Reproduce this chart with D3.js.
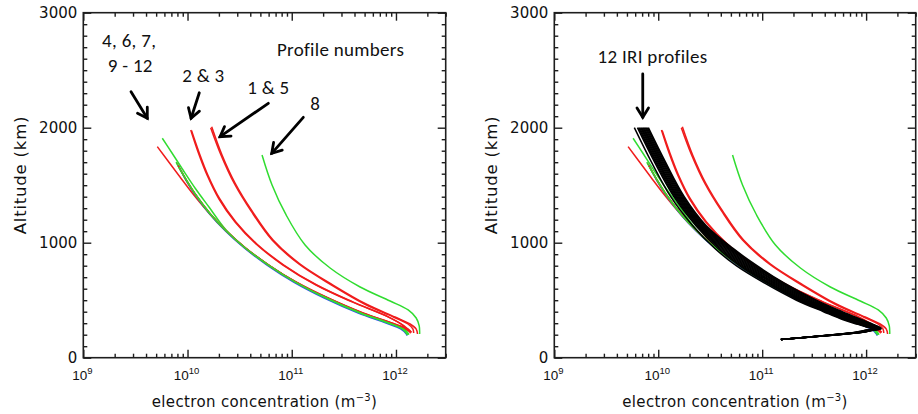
<!DOCTYPE html>
<html><head><meta charset="utf-8">
<script src="https://cdn.jsdelivr.net/npm/d3@7"></script>
<style>
html,body{margin:0;padding:0;background:#fff;}
svg{display:block;}
</style></head><body>
<svg id="chart" width="918" height="414"></svg>
<script>
// ---------------- DATA ----------------
const xDomain = [1e9, 3e12];
const yDomain = [0, 3000];
const xMajorTicks = [1e9, 1e10, 1e11, 1e12];
const xTickExponents = ["9", "10", "11", "12"];
const yMajorTicks = [0, 1000, 2000, 3000];
const yTickLabels = ["0", "1000", "2000", "3000"];

// measured profiles: [altitude (km), log10 electron concentration (m^-3)]
const profile1 = [[2009,10.232],[1763,10.331],[1519,10.456],[1276,10.619],[1023,10.821],[815,11.080],[632,11.396],[467,11.713],[354,11.991],[293,12.135],[250,12.193],[206,12.207]];
const profile2 = [[1980,10.031],[1789,10.101],[1589,10.187],[1380,10.302],[1180,10.456],[989,10.657],[806,10.916],[632,11.233],[485,11.579],[355,11.924],[277,12.078],[226,12.136]];
const profile3 = [[1975,10.038],[1789,10.109],[1589,10.195],[1380,10.310],[1180,10.464],[989,10.665],[806,10.924],[632,11.240],[485,11.585],[355,11.926],[277,12.070],[235,12.100]];
const profile4 = [[1835,9.710],[1710,9.813],[1571,9.928],[1423,10.053],[1267,10.197],[1102,10.370],[954,10.556],[806,10.778],[658,11.040],[519,11.345],[389,11.678],[302,11.955],[258,12.085],[232,12.135],[220,12.150]];
const profile5 = [[2000,10.222],[1763,10.321],[1519,10.446],[1276,10.609],[1023,10.811],[815,11.068],[632,11.382],[467,11.698],[354,11.975],[293,12.115],[250,12.162],[215,12.170]];
const profile6 = [[1908,9.758],[1780,9.851],[1632,9.957],[1476,10.072],[1310,10.206],[1110,10.370],[954,10.553],[806,10.775],[658,11.035],[519,11.333],[389,11.660],[302,11.930],[250,12.065],[212,12.115],[200,12.120]];
const profile7 = [[1693,9.896],[1545,9.990],[1397,10.095],[1250,10.220],[1102,10.375],[954,10.558],[806,10.780],[658,11.040],[519,11.342],[389,11.672],[302,11.945],[255,12.080],[225,12.130],[212,12.140]];
const profile8 = [[1763,10.715],[1502,10.811],[1241,10.946],[980,11.128],[780,11.368],[615,11.656],[493,11.944],[415,12.117],[345,12.194],[276,12.223],[207,12.227]];
const profile9 = [[1676,9.909],[1545,9.984],[1397,10.088],[1250,10.212],[1102,10.364],[954,10.545],[806,10.763],[658,11.018],[519,11.312],[389,11.638],[302,11.905],[250,12.045],[205,12.100],[192,12.105]];
const profile10 = [[1700,9.890],[1545,9.987],[1397,10.092],[1250,10.217],[1102,10.371],[954,10.553],[806,10.774],[658,11.033],[519,11.330],[389,11.657],[302,11.925],[250,12.060],[197,12.112]];
const profile11 = [[1670,9.910],[1545,9.988],[1397,10.093],[1250,10.218],[1102,10.372],[954,10.556],[806,10.778],[658,11.042],[519,11.350],[389,11.685],[302,11.962],[260,12.090],[235,12.135],[222,12.145]];
const profile12 = [[1660,9.915],[1545,9.990],[1397,10.094],[1250,10.218],[1102,10.372],[954,10.555],[806,10.777],[658,11.037],[519,11.335],[389,11.663],[302,11.932],[250,12.068],[210,12.118],[200,12.120]];

const profileColors = ["red","red","red","red","red","green","red","green","blue","green","red","green"];

// IRI model profiles (right panel): shared altitude grid, log10 Ne per profile
const iriAlt = [2000,1700,1400,1150,950,800,650,500,400,330,290,265,252,240,222,193,158];
const iri1  = [9.770, 9.935,10.120,10.330,10.545,10.750,11.020,11.330,11.590,11.780,11.920,12.010,12.065,12.000,11.900,11.600,11.180];
const iri2  = [9.800, 9.965,10.150,10.360,10.575,10.780,11.045,11.350,11.610,11.800,11.935,12.020,12.072,12.010,11.907,11.604,11.180];
const iri3  = [9.811, 9.976,10.160,10.370,10.590,10.797,11.062,11.367,11.626,11.816,11.949,12.031,12.080,12.017,11.914,11.608,11.180];
const iri4  = [9.821, 9.986,10.170,10.380,10.604,10.814,11.078,11.384,11.642,11.832,11.962,12.042,12.088,12.024,11.921,11.612,11.180];
const iri5  = [9.832, 9.997,10.180,10.390,10.619,10.831,11.095,11.401,11.658,11.848,11.976,12.053,12.095,12.031,11.928,11.616,11.180];
const iri6  = [9.842,10.007,10.190,10.400,10.633,10.848,11.111,11.418,11.674,11.864,11.989,12.064,12.103,12.038,11.935,11.620,11.180];
const iri7  = [9.853,10.018,10.200,10.410,10.648,10.865,11.128,11.435,11.690,11.880,12.003,12.075,12.110,12.045,11.942,11.624,11.180];
const iri8  = [9.863,10.028,10.210,10.420,10.662,10.882,11.144,11.452,11.706,11.896,12.016,12.086,12.117,12.052,11.949,11.628,11.180];
const iri9  = [9.874,10.039,10.220,10.430,10.677,10.899,11.161,11.469,11.722,11.912,12.030,12.097,12.124,12.059,11.956,11.632,11.180];
const iri10 = [9.884,10.049,10.230,10.440,10.691,10.916,11.177,11.486,11.738,11.928,12.043,12.108,12.131,12.066,11.963,11.636,11.180];
const iri11 = [9.895,10.060,10.240,10.450,10.706,10.933,11.194,11.503,11.754,11.944,12.057,12.119,12.138,12.073,11.966,11.638,11.180];
const iri12 = [9.905,10.070,10.250,10.460,10.720,10.950,11.210,11.520,11.770,11.960,12.070,12.130,12.145,12.080,11.970,11.640,11.180];

// annotations (data coordinates: log10 Ne, altitude km)
const leftLabels = [
  {text:"4, 6, 7,", lx:9.44, alt:2704},
  {text:"9 - 12", lx:9.45, alt:2487},
  {text:"2 & 3", lx:10.152, alt:2400},
  {text:"1 & 5", lx:10.775, alt:2293},
  {text:"8", lx:11.224, alt:2154},
  {text:"Profile numbers", lx:11.468, alt:2623}
];
const leftArrows = [
  {from:[9.458,2313], to:[9.614,2082]},
  {from:[10.113,2304], to:[10.034,2082]},
  {from:[10.775,2212], to:[10.312,1922]},
  {from:[11.111,2090], to:[10.808,1777]}
];
const rightLabels = [{text:"12 IRI profiles", lx:9.945, alt:2560}];
const rightArrows = [{from:[9.851,2467], to:[9.851,2090]}];

// ---------------- DRAW ----------------
const COLORS = {red:"#f01c1c", green:"#30dc30", blue:"#2a50ee"};
const measured = [profile1,profile2,profile3,profile4,profile5,profile6,profile7,profile8,profile9,profile10,profile11,profile12]
  .map((pts,i)=>({id:i+1, color:COLORS[profileColors[i]], pts:pts.map(([a,l])=>({alt:a, ne:Math.pow(10,l)}))}));
const iri = [iri1,iri2,iri3,iri4,iri5,iri6,iri7,iri8,iri9,iri10,iri11,iri12]
  .map(arr=>arr.map((l,i)=>({alt:iriAlt[i], ne:Math.pow(10,l)})));

const svg = d3.select("#chart");
const AXC = "#1e1e1e";

function drawPanel(left, right, top, bottom, withIRI, labels, arrows) {
  const x = d3.scaleLog().domain(xDomain).range([left, right]);
  const y = d3.scaleLinear().domain(yDomain).range([bottom, top]);
  const g = svg.append("g");

  const line = d3.line().x(d=>x(d.ne)).y(d=>y(d.alt)).curve(d3.curveCatmullRom.alpha(0.5));

  g.append("g").selectAll("path").data(measured).join("path")
    .attr("d", d=>line(d.pts)).attr("fill","none").attr("stroke",d=>d.color)
    .attr("stroke-width",1.5);
  if (withIRI) {
    g.append("g").selectAll("path").data(iri).join("path")
      .attr("d", line).attr("fill","none").attr("stroke","#000")
      .attr("stroke-width",1.5).attr("stroke-linejoin","round");
  }

  // axes (ticks inward on all four sides)
  const minorX = x.ticks().filter(v => !xMajorTicks.includes(v));
  const minorY = y.ticks(30).filter(v => !yMajorTicks.includes(v));
  function style(sel){ sel.select(".domain").remove(); sel.selectAll("line").attr("stroke",AXC).attr("stroke-width",1.4); }
  g.append("g").attr("transform",`translate(0,${bottom})`).call(d3.axisBottom(x).tickValues(minorX).tickSize(-4).tickFormat("")).call(style);
  g.append("g").attr("transform",`translate(0,${bottom})`).call(d3.axisBottom(x).tickValues(xMajorTicks).tickSize(-8).tickFormat("")).call(style);
  g.append("g").attr("transform",`translate(0,${top})`).call(d3.axisTop(x).tickValues(minorX).tickSize(-4).tickFormat("")).call(style);
  g.append("g").attr("transform",`translate(0,${top})`).call(d3.axisTop(x).tickValues(xMajorTicks).tickSize(-8).tickFormat("")).call(style);
  g.append("g").attr("transform",`translate(${left},0)`).call(d3.axisLeft(y).tickValues(minorY).tickSize(-4).tickFormat("")).call(style);
  const yl = g.append("g").attr("transform",`translate(${left},0)`).call(d3.axisLeft(y).tickValues(yMajorTicks).tickSize(-8).tickPadding(6).tickFormat((d,i)=>yTickLabels[i])).call(style);
  yl.selectAll("text").attr("font-family","DejaVu Sans").attr("font-size",15).attr("fill","#111");
  g.append("g").attr("transform",`translate(${right},0)`).call(d3.axisRight(y).tickValues(minorY).tickSize(-4).tickFormat("")).call(style);
  g.append("g").attr("transform",`translate(${right},0)`).call(d3.axisRight(y).tickValues(yMajorTicks).tickSize(-8).tickFormat("")).call(style);

  g.append("rect").attr("x",left).attr("y",top).attr("width",right-left).attr("height",bottom-top)
    .attr("fill","none").attr("stroke",AXC).attr("stroke-width",1.6);

  // x tick labels with superscripts
  const xt = g.append("g").selectAll("text").data(xMajorTicks).join("text")
    .attr("x",d=>x(d)-1).attr("y",bottom+22)
    .attr("text-anchor","middle").attr("font-family","Liberation Sans").attr("font-size",13.5).attr("fill","#111");
  xt.append("tspan").text("10");
  xt.append("tspan").attr("dy",-6).attr("font-size",9.5).text((d,i)=>xTickExponents[i]);

  // axis titles
  const xtitle = g.append("text").attr("x",(left+right)/2).attr("y",407)
    .attr("text-anchor","middle").attr("font-family","DejaVu Sans").attr("font-size",15)
    .attr("letter-spacing",0.35).attr("fill","#111");
  xtitle.append("tspan").text("electron concentration (m");
  xtitle.append("tspan").attr("dy",-6).attr("font-size",10).text("\u22123");
  xtitle.append("tspan").attr("dy",6).text(")");

  g.append("text").attr("transform",`translate(${left-57},175) rotate(-90)`)
    .attr("text-anchor","middle").attr("font-family","DejaVu Sans").attr("font-size",16.5)
    .attr("letter-spacing",0.8).attr("fill","#111").text("Altitude (km)");

  // annotations
  g.append("g").selectAll("text").data(labels).join("text")
    .attr("x",d=>x(Math.pow(10,d.lx))).attr("y",d=>y(d.alt))
    .attr("text-anchor","middle").attr("font-family","Carlito, Calibri, Lato, sans-serif")
    .attr("font-size",19).attr("letter-spacing",0.3).attr("fill","#111").text(d=>d.text);

  const ag = g.append("g").attr("stroke","#000").attr("stroke-width",2.8).attr("fill","none").attr("stroke-linecap","round");
  arrows.forEach(a=>{
    const x1=x(Math.pow(10,a.from[0])), y1=y(a.from[1]), x2=x(Math.pow(10,a.to[0])), y2=y(a.to[1]);
    const ang=Math.atan2(y2-y1,x2-x1), L=11, W=0.55;
    ag.append("path").attr("d",`M${x1},${y1}L${x2},${y2}`);
    ag.append("path").attr("stroke-linejoin","miter")
      .attr("d",`M${x2-L*Math.cos(ang-W)},${y2-L*Math.sin(ang-W)}L${x2},${y2}L${x2-L*Math.cos(ang+W)},${y2-L*Math.sin(ang+W)}`);
  });
}

drawPanel(83.3, 445.7, 12.7, 357.7, false, leftLabels, leftArrows);
drawPanel(554.3, 915.7, 12.7, 357.7, true, rightLabels, rightArrows);
</script>
</body></html>
